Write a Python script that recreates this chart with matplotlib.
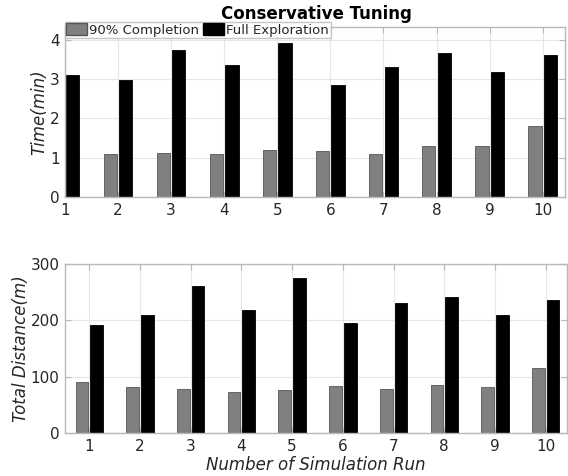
import matplotlib.pyplot as plt
import numpy as np
from matplotlib.patches import Patch

runs = np.arange(1, 11)
time_90 = [1.05, 1.09, 1.12, 1.09, 1.2, 1.16, 1.09, 1.29, 1.29, 1.8]
time_full = [3.1, 2.99, 3.74, 3.35, 3.93, 2.84, 3.3, 3.68, 3.19, 3.62]
dist_90 = [90, 81.5, 78.5, 73, 76, 84, 78.5, 85.5, 82, 115.5]
dist_full = [192, 209.5, 261, 219, 274.5, 195.5, 230, 241, 209.5, 235.5]
series_names = ['90% Completion', 'Full Exploration']

grey = '#808080'
spine_col = '#b8b8b8'
txt_col = '#262626'

fig = plt.figure(figsize=(5.68, 4.76), dpi=100)
ax1 = fig.add_axes([65 / 568, 1 - 197 / 476, 500 / 568, 170 / 476])
ax2 = fig.add_axes([65 / 568, 1 - 433 / 476, 502 / 568, 169 / 476])

w = 0.25
off = 0.145


def style(ax):
    ax.set_axisbelow(True)
    ax.grid(True, color='#e6e6e6', linewidth=0.8)
    for s in ax.spines.values():
        s.set_color(spine_col)
        s.set_linewidth(1.0)
    ax.tick_params(colors=spine_col, labelcolor=txt_col, labelsize=11,
                   direction='in', length=4, top=True, right=True, pad=4)
    ax.set_xticks(runs)


ax1.bar(runs - off, time_90, w, color=grey, edgecolor='#555555', linewidth=0.6)
ax1.bar(runs + off, time_full, w, color='black', edgecolor='black', linewidth=0.6)
ax1.set_xlim(1, 10.42)
ax1.set_ylim(0, 4.33)
ax1.set_yticks([0, 1, 2, 3, 4])
style(ax1)
ax1.set_ylabel('Time(min)', fontsize=12, style='italic', color=txt_col, labelpad=1)

ax2.bar(runs - off, dist_90, w, color=grey, edgecolor='#555555', linewidth=0.6)
ax2.bar(runs + off, dist_full, w, color='black', edgecolor='black', linewidth=0.6)
ax2.set_xlim(0.52, 10.42)
ax2.set_ylim(0, 300)
ax2.set_yticks([0, 100, 200, 300])
style(ax2)
ax2.set_ylabel('Total Distance(m)', fontsize=12, style='italic', color=txt_col, labelpad=0)
ax2.set_xlabel('Number of Simulation Run', fontsize=12, style='italic', color=txt_col, labelpad=2)

handles = [Patch(facecolor=grey, edgecolor='#555555'), Patch(facecolor='black', edgecolor='black')]
fig.legend(handles, series_names, loc='upper left', bbox_to_anchor=(65 / 568, 1 - 22 / 476),
           ncol=2, fontsize=9.5, frameon=True, fancybox=False, edgecolor=spine_col,
           borderpad=0.1, handlelength=1.6, handleheight=1.0, handletextpad=0.15,
           columnspacing=0.3, borderaxespad=0, labelcolor=txt_col)

fig.text(316 / 568, 1 - 14 / 476, 'Conservative Tuning', ha='center', va='center',
         fontsize=12, fontweight='bold')

fig.savefig('out.png', dpi=100)
